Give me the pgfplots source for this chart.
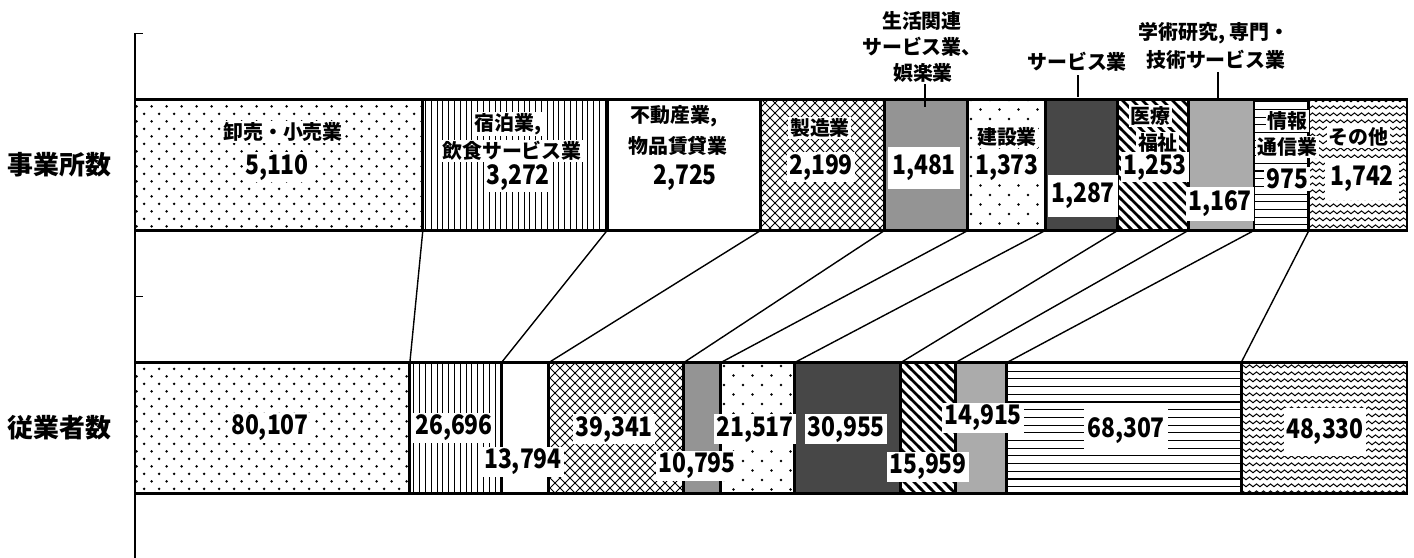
\documentclass[border=0pt]{standalone}
\usepackage{fontspec}
\usepackage{pgfplots}
\pgfplotsset{compat=1.18}
\usepackage{pgfplotstable}
\usetikzlibrary{patterns,calc}
\newfontfamily\jp{Noto Sans CJK JP}
\newfontfamily\jpnum{Noto Sans CJK JP}[FakeStretch=0.85]

% ---- patterns ----
\pgfdeclarepatternformonly{wdots}{\pgfqpoint{-1bp}{-1bp}}{\pgfqpoint{8.5bp}{8.5bp}}{\pgfqpoint{7.5bp}{7.5bp}}{%
 \pgfpathcircle{\pgfqpoint{0.8bp}{0.8bp}}{0.72bp}%
 \pgfpathcircle{\pgfqpoint{4.55bp}{4.55bp}}{0.72bp}%
 \pgfusepath{fill}}
\pgfdeclarepatternformonly{vlines}{\pgfqpoint{-0.5bp}{-0.5bp}}{\pgfqpoint{3.5bp}{3.5bp}}{\pgfqpoint{2.9bp}{2.9bp}}{%
 \pgfsetlinewidth{0.5bp}\pgfpathmoveto{\pgfqpoint{1bp}{-0.5bp}}\pgfpathlineto{\pgfqpoint{1bp}{3.5bp}}\pgfusepath{stroke}}
\pgfdeclarepatternformonly{dcross}{\pgfqpoint{-0.5bp}{-0.5bp}}{\pgfqpoint{5.5bp}{5.5bp}}{\pgfqpoint{5bp}{5bp}}{%
 \pgfsetlinewidth{0.5bp}%
 \pgfpathmoveto{\pgfqpoint{-0.3bp}{-0.3bp}}\pgfpathlineto{\pgfqpoint{5.3bp}{5.3bp}}%
 \pgfpathmoveto{\pgfqpoint{-0.3bp}{5.3bp}}\pgfpathlineto{\pgfqpoint{5.3bp}{-0.3bp}}%
 \pgfusepath{stroke}}
\pgfdeclarepatternformonly{sdots}{\pgfqpoint{-1bp}{-1bp}}{\pgfqpoint{10.5bp}{10.5bp}}{\pgfqpoint{9.5bp}{9.5bp}}{%
 \pgfpathcircle{\pgfqpoint{1bp}{1bp}}{0.65bp}%
 \pgfpathcircle{\pgfqpoint{5.75bp}{5.75bp}}{0.65bp}%
 \pgfusepath{fill}}
\pgfdeclarepatternformonly{nwthick}{\pgfqpoint{-1.5bp}{-1.5bp}}{\pgfqpoint{6.5bp}{6.5bp}}{\pgfqpoint{5bp}{5bp}}{%
 \pgfsetlinewidth{1.3bp}%
 \pgfpathmoveto{\pgfqpoint{-0.8bp}{5.8bp}}\pgfpathlineto{\pgfqpoint{5.8bp}{-0.8bp}}%
 \pgfusepath{stroke}}
\pgfdeclarepatternformonly{hlines}{\pgfqpoint{-0.5bp}{-0.5bp}}{\pgfqpoint{4.5bp}{4.5bp}}{\pgfqpoint{3.85bp}{3.85bp}}{%
 \pgfsetlinewidth{0.55bp}\pgfpathmoveto{\pgfqpoint{-0.5bp}{1bp}}\pgfpathlineto{\pgfqpoint{4.5bp}{1bp}}\pgfusepath{stroke}}
\pgfdeclarepatternformonly{zigzag}{\pgfqpoint{-0.5bp}{-0.5bp}}{\pgfqpoint{4bp}{4bp}}{\pgfqpoint{3.5bp}{3.5bp}}{%
 \pgfsetlinewidth{0.5bp}%
 \pgfpathmoveto{\pgfqpoint{-0.1bp}{0.55bp}}\pgfpathlineto{\pgfqpoint{1.75bp}{2.05bp}}\pgfpathlineto{\pgfqpoint{3.6bp}{0.55bp}}%
 \pgfusepath{stroke}}

% ---- data: y=1 事業所数, y=0 従業者数 ----
\pgfplotstableread{
y total a b c d e f g h i j k
1 22584 5110 3272 2725 2199 1481 1373 1287 1253 1167 975 1742
0 370716 80107 26696 13794 39341 10795 21517 30955 15959 14915 68307 48330
}\data

% boundaries between segments (cumulative share, %) : top bar -> bottom bar
\pgfplotstableread{
x y
22.627 0.751
21.609 0.249
nan nan
37.115 0.751
28.810 0.249
nan nan
49.181 0.751
32.531 0.249
nan nan
58.918 0.751
43.143 0.249
nan nan
65.476 0.751
46.055 0.249
nan nan
71.555 0.751
51.859 0.249
nan nan
77.254 0.751
60.209 0.249
nan nan
82.802 0.751
64.514 0.249
nan nan
87.969 0.751
68.537 0.249
nan nan
92.287 0.751
86.963 0.249
}\links

\pgfplotsset{
 myax/.style={scale only axis, width=636bp, height=262.25bp,
   xmin=0, xmax=100, ymin=-0.494, ymax=1.5, clip=false},
}
\tikzset{
 seg/.style={draw=black, line width=1.4bp},
 lab/.style={font=\jp\bfseries\fontsize{10}{11}\selectfont, fill=white, inner sep=0.8bp},
 num/.style={font=\jpnum\bfseries\fontsize{13.5}{14}\selectfont, fill=white, inner sep=1.1bp},
}

\begin{document}
\begin{tikzpicture}
\begin{axis}[myax, hide axis]
\addplot[black, line width=0.7bp, no marks, unbounded coords=jump] table[x=x, y=y] {\links};
\end{axis}

\begin{axis}[myax, name=ax,
  xbar stacked, bar width=65.5bp,
  axis x line=none, axis y line*=left,
  y axis line style={-, line width=0.8bp},
  ytick={0,1}, yticklabels={従業者数,事業所数},
  major tick length=0pt, tick align=inside,
  yticklabel style={font=\jp\bfseries\fontsize{13}{14}\selectfont, inner sep=0pt, xshift=-11.5bp},
  extra y ticks={0.5,1.5}, extra y tick labels={},
  extra tick style={major tick length=4bp, tick style={black, line width=0.8bp}},
]
\addplot[seg, pattern=wdots] table[y=y, x expr=\thisrow{a}/\thisrow{total}*100] {\data};
\addplot[seg, pattern=vlines] table[y=y, x expr=\thisrow{b}/\thisrow{total}*100] {\data};
\addplot[seg, fill=white] table[y=y, x expr=\thisrow{c}/\thisrow{total}*100] {\data};
\addplot[seg, pattern=dcross] table[y=y, x expr=\thisrow{d}/\thisrow{total}*100] {\data};
\addplot[seg, fill=black!42] table[y=y, x expr=\thisrow{e}/\thisrow{total}*100] {\data};
\addplot[seg, pattern=sdots] table[y=y, x expr=\thisrow{f}/\thisrow{total}*100] {\data};
\addplot[seg, fill=black!72] table[y=y, x expr=\thisrow{g}/\thisrow{total}*100] {\data};
\addplot[seg, pattern=nwthick] table[y=y, x expr=\thisrow{h}/\thisrow{total}*100] {\data};
\addplot[seg, fill=black!33] table[y=y, x expr=\thisrow{i}/\thisrow{total}*100] {\data};
\addplot[seg, pattern=hlines] table[y=y, x expr=\thisrow{j}/\thisrow{total}*100] {\data};
\addplot[seg, pattern=zigzag] table[y=y, x expr=\thisrow{k}/\thisrow{total}*100] {\data};
\end{axis}

\begin{axis}[myax, hide axis]
% leader lines
\draw[line width=1bp] (axis cs:62.11,1.312) -- (axis cs:62.11,1.221);
\draw[line width=1bp] (axis cs:74.14,1.342) -- (axis cs:74.14,1.259);
\draw[line width=1bp] (axis cs:85.14,1.354) -- (axis cs:85.14,1.247);

% top bar labels
\node[lab] at (axis cs:11.64,1.125) {卸売・小売業};
\node[num] at (axis cs:11.16,0.992) {5,110};
\node[lab] at (axis cs:29.32,1.156) {宿泊業,};
\node[lab] at (axis cs:29.64,1.053) {飲食サービス業};
\node[num] at (axis cs:30.11,0.954) {3,272};
\node[lab] at (axis cs:42.37,1.186) {不動産業,};
\node[lab] at (axis cs:42.69,1.072) {物品賃貸業};
\node[num] at (axis cs:43.24,0.951) {2,725};
\node[lab] at (axis cs:53.85,1.141) {製造業};
\node[num] at (axis cs:53.93,0.992) {2,199};
\node[lab] at (axis cs:61.87,1.548) {生活関連};
\node[lab] at (axis cs:61.87,1.449) {サービス業、};
\node[lab] at (axis cs:61.95,1.350) {娯楽業};
\node[num, minimum width=36bp, minimum height=21bp] at (axis cs:62.03,0.989) {1,481};
\node[lab] at (axis cs:68.55,1.106) {建設業};
\node[num] at (axis cs:68.55,0.989) {1,373};
\node[lab] at (axis cs:74.06,1.392) {サービス業};
\node[num, minimum width=35bp, minimum height=21bp] at (axis cs:74.53,0.882) {1,287};
\node[lab] at (axis cs:79.80,1.186) {医療};
\node[lab] at (axis cs:80.42,1.084) {福祉};
\node[num] at (axis cs:80.19,0.992) {1,253};
\node[lab] at (axis cs:84.83,1.502) {学術研究, 専門・};
\node[lab] at (axis cs:84.98,1.399) {技術サービス業};
\node[num, minimum width=31bp, minimum height=17bp] at (axis cs:85.30,0.852) {1,167};
\node[lab] at (axis cs:90.57,1.167) {情報};
\node[lab] at (axis cs:90.57,1.068) {通信業};
\node[num] at (axis cs:90.57,0.947) {975};
\node[lab] at (axis cs:96.15,1.106) {その他};
\node[num, minimum width=37bp, minimum height=21bp] at (axis cs:96.46,0.947) {1,742};

% bottom bar labels
\node[num] at (axis cs:10.61,0) {80,107};
\node[num] at (axis cs:25.08,0) {26,696};
\node[num] at (axis cs:30.50,-0.129) {13,794};
\node[num] at (axis cs:37.66,-0.004) {39,341};
\node[num] at (axis cs:44.18,-0.144) {10,795};
\node[num] at (axis cs:48.74,-0.004) {21,517};
\node[num] at (axis cs:55.90,-0.004) {30,955};
\node[num] at (axis cs:62.34,-0.148) {15,959};
\node[num] at (axis cs:66.67,0.038) {14,915};
\node[num, minimum width=42bp, minimum height=22bp] at (axis cs:77.91,-0.011) {68,307};
\node[num, minimum width=40bp, minimum height=24bp] at (axis cs:93.55,-0.015) {48,330};
\end{axis}
\pgfresetboundingbox
\path ($(ax.south west)+(-67.5bp,0)$) rectangle ($(ax.north east)+(3.5bp,16.75bp)$);
\end{tikzpicture}
\end{document}
